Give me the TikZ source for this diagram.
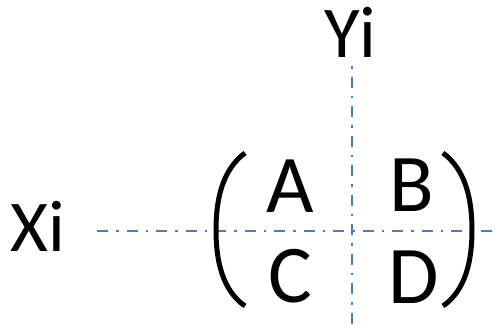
\documentclass[tikz,border=0pt]{standalone}
\usepackage{fontspec}
\setmainfont{Carlito}
\definecolor{axisblue}{HTML}{4A7EBB}
\begin{document}
\begin{tikzpicture}[x=1pt,y=-1pt,
  lbl/.style={inner sep=0pt,anchor=base,font=\fontsize{73}{80}\selectfont},
  ent/.style={inner sep=0pt,anchor=base,font=\fontsize{82}{90}\selectfont},
  axisline/.style={axisblue,line width=2.4pt,dash pattern=on 11pt off 8pt on 2.5pt off 8pt},
  paren/.style={line width=5pt,black}]
\useasboundingbox (0,0) rectangle (498,324);
\node[lbl] (yi) at (350.5,57) {Yi};
\node[lbl] (xi) at (38,251) {Xi};
\node[ent] (a) at (290.5,212) {A};
\node[ent] (b) at (411.5,211) {B};
\node[ent] (c) at (290,302) {C};
\node[ent] (d) at (414,303) {D};
\coordinate (hl) at (97,231);
\coordinate (hr) at (498,231);
\coordinate (vt) at (352,66);
\coordinate (vb) at (352,324);
\draw[axisline] (hl) -- (hr);
\draw[axisline,dash phase=19pt] (vt) -- (vb);
\draw[paren] (245,153) .. controls (222,170) and (216,200) .. (216,230)
  .. controls (216,260) and (222,290) .. (245,306);
\draw[paren] (443,153) .. controls (466,170) and (472,200) .. (472,230)
  .. controls (472,260) and (466,290) .. (443,306);
\end{tikzpicture}
\end{document}
